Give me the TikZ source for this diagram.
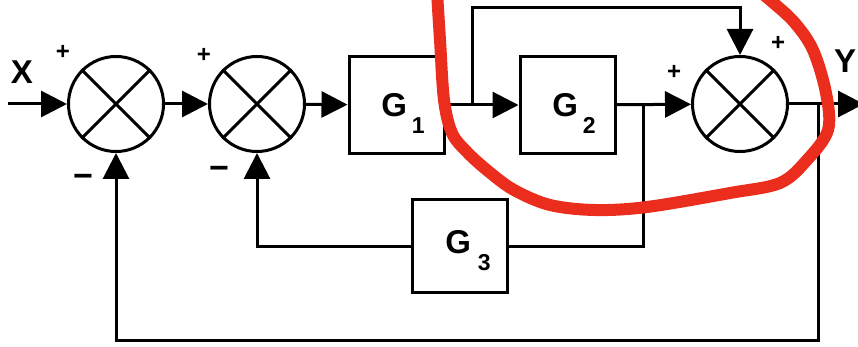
\documentclass[tikz,border=0pt]{standalone}
\usepackage{fontspec}
\setmainfont{Liberation Sans}
\usetikzlibrary{arrows.meta}
\definecolor{redmark}{RGB}{234,45,28}
\begin{document}
\begin{tikzpicture}[x=1pt,y=-1pt,
  line width=3pt,
  sumnode/.style={circle,draw,minimum size=95pt,inner sep=0pt},
  blk/.style={draw,minimum width=95pt,minimum height=97pt,inner sep=0pt},
  arr/.style={-{Triangle[length=26pt,width=26pt]}},
  lbl/.style={font=\fontsize{33}{35}\selectfont\bfseries,inner sep=0pt},
  io/.style={font=\fontsize{33}{35}\selectfont\bfseries,inner sep=0pt},
  sgnp/.style={font=\fontsize{24}{26}\selectfont\bfseries,inner sep=0pt},
  sgnm/.style={font=\fontsize{34}{36}\selectfont\bfseries,inner sep=0pt},
]
\useasboundingbox (0,0) rectangle (858,347);

% summing junctions
\node[sumnode] (s1) at (116,104) {};
\node[sumnode] (s2) at (257,104) {};
\node[sumnode] (s3) at (740,104) {};
\foreach \s in {s1,s2,s3}{
  \draw (\s.45) -- (\s.225);
  \draw (\s.135) -- (\s.315);
}

% blocks
\node[blk] (g1) at (396.5,105) {};
\node[blk] (g2) at (567.5,105) {};
\node[blk,minimum height=92pt] (g3) at (459.5,246) {};
\node[lbl] (g1l) at (403,113) {G\kern5pt\raisebox{-17pt}{\fontsize{23}{23}\selectfont 1}};
\node[lbl] (g2l) at (574,113) {G\kern5pt\raisebox{-17pt}{\fontsize{23}{23}\selectfont 2}};
\node[lbl] (g3l) at (468,251) {G\kern7pt\raisebox{-17pt}{\fontsize{23}{23}\selectfont 3}};

% coordinates
\coordinate (xin) at (8,104);
\coordinate (yout) at (864,104);
\coordinate (b1) at (472,104);
\coordinate (t3) at (740,8);
\coordinate (b2) at (643,104);
\coordinate (b3) at (818,104);
\coordinate (lowR) at (818,340);

% forward path
\draw[arr] (xin) -- (s1);
\draw[arr] (s1) -- (s2);
\draw[arr] (s2) -- (g1);
\draw[arr] (g1) -- (g2);
\draw[arr] (g2) -- (s3);
\draw[arr] (s3) -- (yout);

% feedforward over G2
\draw[arr] (b1) |- (t3) -- (s3);

% G3 loop
\draw (b2) |- (g3.east);
\draw[arr] (g3.west) -| (s2.south);

% outer loop
\draw[arr] (b3) -- (lowR) -| (s1.south);

% labels
\node[io] (xl) at (22,72) {X};
\node[io] (yl) at (845,61) {Y};
\node[sgnp] (p1) at (63,52) {+};
\node[sgnm] (m1) at (83,181) {−};
\node[sgnp] (p2) at (204,55) {+};
\node[sgnm] (m2) at (219,173) {−};
\node[sgnp] (p3) at (674,72) {+};
\node[sgnp] (p4) at (778,43) {+};

% red freehand mark
\draw[redmark,line width=12pt,line cap=round]
  plot[smooth,tension=0.55] coordinates {
    (437,-8) (440,40) (444,100) (452,133) (467,152) (488,171) (514,190)
    (550,205) (595,210) (647,207) (730,193) (780,183) (807,160)
    (828,130) (826,93) (813,50) (794,22) (770,0) (760,-8)};
\end{tikzpicture}
\end{document}
